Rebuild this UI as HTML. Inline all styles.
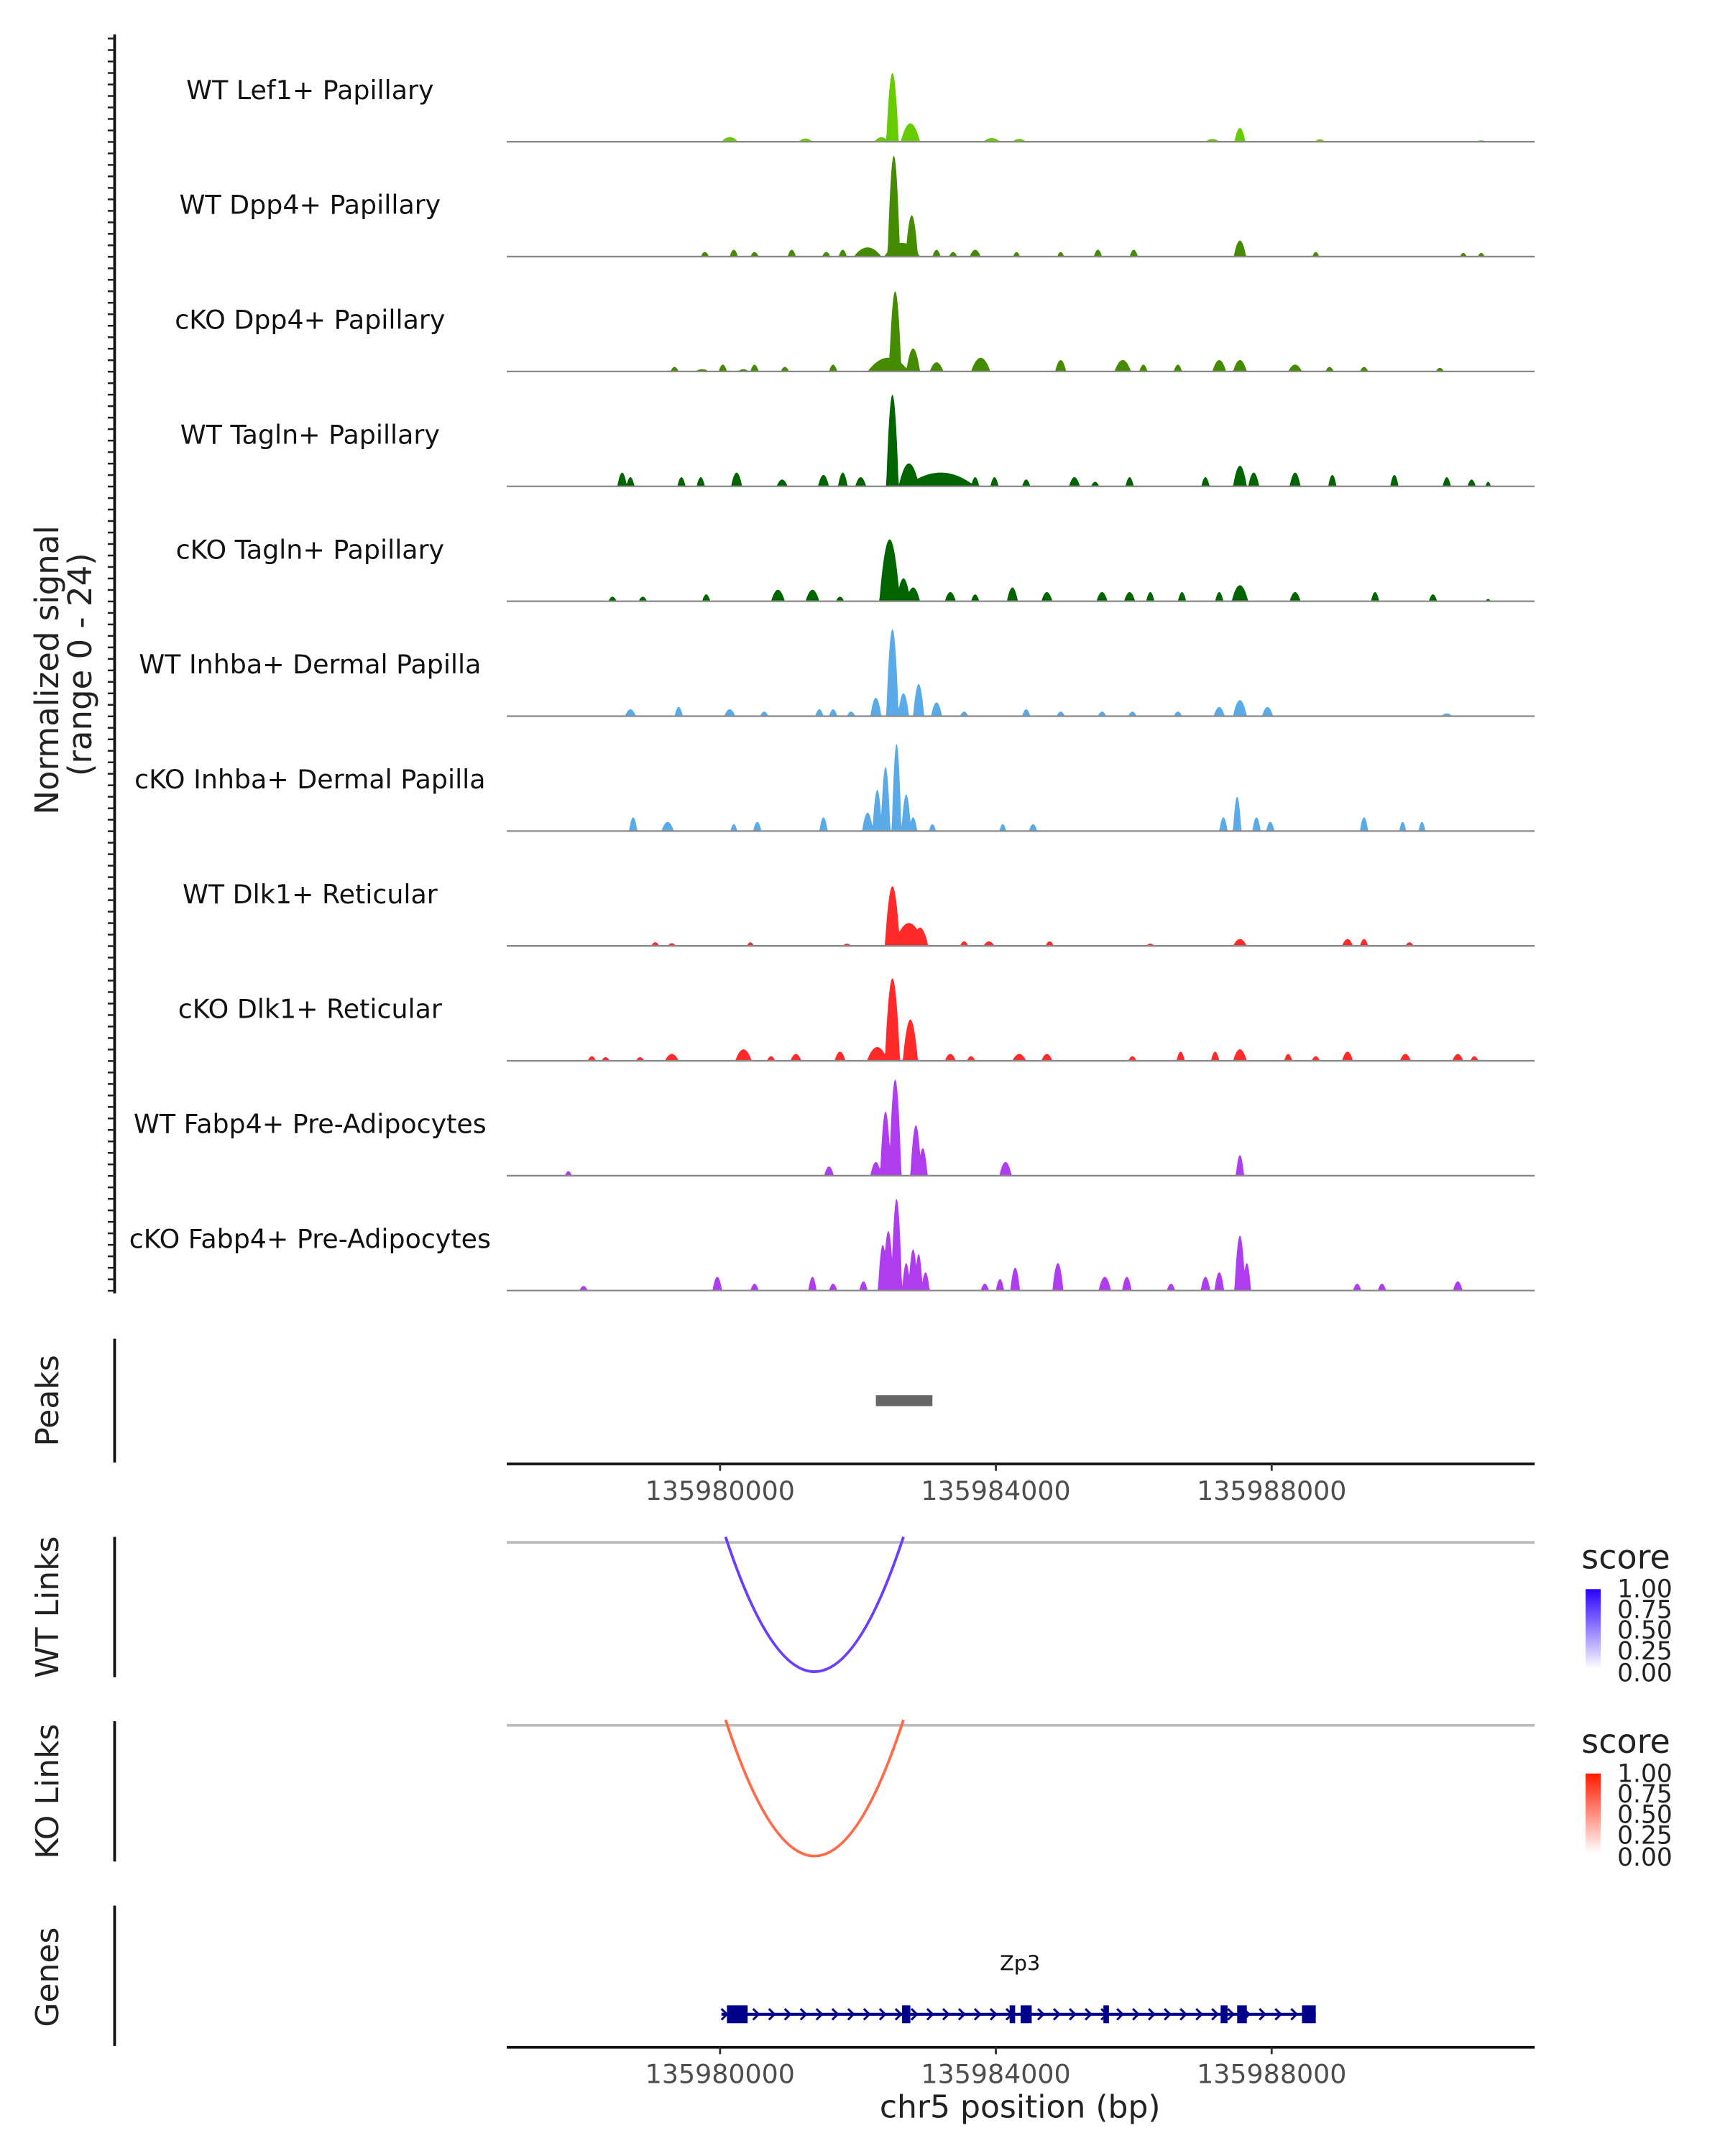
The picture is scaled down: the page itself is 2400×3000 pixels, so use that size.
<!DOCTYPE html>
<html><head><meta charset="utf-8"><style>
html,body{margin:0;padding:0;background:#fff}
svg{display:block;font-family:"DejaVu Sans","Liberation Sans",sans-serif}
</style></head><body>
<svg id="chart" width="2400" height="3000" viewBox="0 0 1253 1567" xmlns="http://www.w3.org/2000/svg">
<defs>
<linearGradient id="gBlue" x1="0" y1="0" x2="0" y2="1"><stop offset="0" stop-color="#2a00ff"/><stop offset="1" stop-color="#ffffff"/></linearGradient>
<linearGradient id="gRed" x1="0" y1="0" x2="0" y2="1"><stop offset="0" stop-color="#ff1a00"/><stop offset="1" stop-color="#ffffff"/></linearGradient>
</defs>
<g id="tracks"></g>
<text transform="translate(42,487) rotate(-90)" text-anchor="middle" font-size="23.5" fill="#222">Normalized signal</text>
<text transform="translate(66,483) rotate(-90)" text-anchor="middle" font-size="23.5" fill="#222">(range 0 - 24)</text>
<line x1="83" y1="25" x2="83" y2="940" stroke="#111" stroke-width="2"/>
<g id="yticks"></g>

<g>
<line x1="83" y1="973" x2="83" y2="1063" stroke="#111" stroke-width="2"/>
<text transform="translate(42,1018) rotate(-90)" text-anchor="middle" font-size="23" fill="#222">Peaks</text>
<rect id="peakbar" y="1014" height="8" fill="#666"/>
</g>
<g id="axis1"></g>

<g>
<line x1="83" y1="1117" x2="83" y2="1219" stroke="#111" stroke-width="2"/>
<text transform="translate(42,1168) rotate(-90)" text-anchor="middle" font-size="23" fill="#222">WT Links</text>
<line x1="368" y1="1121" x2="1115" y2="1121" stroke="#bbb" stroke-width="2"/>
<path id="wtarc" fill="none" stroke="#6a3dff" stroke-width="2"/>
<text x="1149" y="1140" font-size="24" fill="#222">score</text>
<rect x="1152" y="1155" width="11" height="58" fill="url(#gBlue)"/>
<g font-size="18" fill="#222"><text x="1175" y="1161">1.00</text><text x="1175" y="1176">0.75</text><text x="1175" y="1191">0.50</text><text x="1175" y="1206">0.25</text><text x="1175" y="1222">0.00</text></g>
</g>

<g>
<line x1="83" y1="1251" x2="83" y2="1353" stroke="#111" stroke-width="2"/>
<text transform="translate(42,1302) rotate(-90)" text-anchor="middle" font-size="23" fill="#222">KO Links</text>
<line x1="368" y1="1254" x2="1115" y2="1254" stroke="#bbb" stroke-width="2"/>
<path id="koarc" fill="none" stroke="#ff6a4a" stroke-width="2"/>
<text x="1149" y="1274" font-size="24" fill="#222">score</text>
<rect x="1152" y="1289" width="11" height="58" fill="url(#gRed)"/>
<g font-size="18" fill="#222"><text x="1175" y="1295">1.00</text><text x="1175" y="1310">0.75</text><text x="1175" y="1325">0.50</text><text x="1175" y="1340">0.25</text><text x="1175" y="1356">0.00</text></g>
</g>

<g>
<line x1="83" y1="1385" x2="83" y2="1487" stroke="#111" stroke-width="2"/>
<text transform="translate(42,1437) rotate(-90)" text-anchor="middle" font-size="23" fill="#222">Genes</text>
<text x="741" y="1432" text-anchor="middle" font-size="15" fill="#111">Zp3</text>
<g id="gene"></g>
</g>
<g id="axis2"></g>
<text x="741" y="1539" text-anchor="middle" font-size="23" fill="#222">chr5 position (bp)</text>
</svg>
<script>
const NS="http://www.w3.org/2000/svg";
const trackNames=["WT Lef1+ Papillary","WT Dpp4+ Papillary","cKO Dpp4+ Papillary","WT Tagln+ Papillary","cKO Tagln+ Papillary","WT Inhba+ Dermal Papilla","cKO Inhba+ Dermal Papilla","WT Dlk1+ Reticular","cKO Dlk1+ Reticular","WT Fabp4+ Pre-Adipocytes","cKO Fabp4+ Pre-Adipocytes"];
const trackColors=["#66cc00","#458b00","#458b00","#006400","#006400","#5aaae8","#5aaae8","#ff2a2a","#ff2a2a","#b03cf0","#b03cf0"];
const xTicks=[135980000,135984000,135988000];
const xTickLabels=["135980000","135984000","135988000"];
// peaks: [position bp, height (0-24), half-width bp]
const t1=[[135982500,15,90],[135982760,4,140],[135982340,1,100],[135980140,1,120],[135981240,0.7,100],[135983940,0.8,120],[135984340,0.6,100],[135987540,3,80],[135987140,0.6,100],[135988700,0.5,80],[135991040,0.3,80]];
const t2=[[135982520,22,90],[135982780,9,90],[135982640,3,260],[135982140,2,200],[135979780,1,60],[135980200,1.5,60],[135980500,1,60],[135981040,1.5,60],[135981540,1,60],[135981780,1.5,60],[135983140,1.5,60],[135983380,1,60],[135983700,1.5,80],[135984300,1,50],[135984940,1,50],[135985480,1.5,60],[135986000,1.5,60],[135987540,3.5,90],[135988640,1,50],[135990780,0.8,50],[135991040,0.8,50]];
const t3=[[135982540,17.5,90],[135982800,5,100],[135982440,3,300],[135979740,0.5,100],[135980340,0.5,80],[135979340,1,60],[135980040,1.5,60],[135980500,1.5,60],[135980940,1,60],[135981640,1.5,60],[135983140,2,100],[135983780,3,140],[135984940,2.5,80],[135985840,2.5,120],[135986140,1.5,60],[135986640,1.5,60],[135987240,2.5,100],[135987540,2.5,100],[135988340,1.5,100],[135988840,1,60],[135989340,1,60],[135990440,0.8,60]];
const t4=[[135982500,20,90],[135982740,5,150],[135983200,3,500],[135978580,3,70],[135978700,2,60],[135979440,2,60],[135979720,2,60],[135980240,3,80],[135980900,1.5,80],[135981500,2.5,80],[135981780,3,70],[135982040,2,80],[135983140,2,60],[135983700,2,60],[135983980,2,60],[135984440,1.5,60],[135985140,2,80],[135985440,1,60],[135985940,2,60],[135987040,2,60],[135987540,4.5,100],[135987740,3,80],[135988340,3,80],[135988880,2.5,60],[135989780,2.5,60],[135990540,2,60],[135990900,1.5,60],[135991140,1,40]];
const t5=[[135982460,13.5,150],[135982660,5,100],[135978440,1,60],[135978880,1,60],[135979800,1.5,60],[135980840,2.5,100],[135981340,2.5,100],[135981740,1,60],[135982800,3,100],[135983340,2,80],[135983700,1.5,60],[135984240,3,80],[135984740,2,80],[135985540,2,80],[135985940,2,80],[135986240,2,60],[135986700,2,60],[135987240,2,60],[135987540,3.5,120],[135988340,2,80],[135989500,2,60],[135990340,1.5,60],[135991140,0.5,40]];
const t6=[[135982500,19,90],[135982260,4,80],[135982660,5,80],[135982880,7,80],[135983140,3,80],[135978700,1.5,80],[135979400,2,60],[135980140,1.5,80],[135980640,1,60],[135981440,1.5,60],[135981640,1.5,60],[135981900,1,60],[135983540,1,60],[135984440,1.5,60],[135984940,1,60],[135985540,1,60],[135985980,1,60],[135986640,1,60],[135987240,2,80],[135987540,3.5,100],[135987940,2,80],[135990540,0.6,80]];
const t7=[[135982560,19,70],[135982400,14,70],[135982280,9,70],[135982140,4,80],[135982700,8,70],[135982800,3,60],[135983080,1.5,50],[135978740,3,60],[135979240,2,90],[135980200,1.5,50],[135980540,2,60],[135981500,3,60],[135984100,1.5,50],[135984540,1.5,60],[135987300,3,60],[135987500,7.5,60],[135987780,3,60],[135987980,2,60],[135989340,3,60],[135989900,2,50],[135990180,2,50]];
const t8=[[135982500,13,110],[135982740,5,220],[135982900,4,120],[135979060,0.8,60],[135979300,0.6,60],[135980440,0.8,50],[135981840,0.5,60],[135983540,1,60],[135983900,1,80],[135984780,1,60],[135986240,0.5,60],[135987540,1.5,100],[135989100,1.5,80],[135989340,1.5,60],[135990000,0.8,60]];
const t9=[[135982500,18,110],[135982760,9,110],[135982280,3,150],[135978140,1,60],[135978340,0.8,60],[135978840,0.8,60],[135979300,1.5,100],[135980340,2.5,120],[135980740,1,60],[135981100,1.5,80],[135981740,2,80],[135983340,1.5,80],[135983640,1,60],[135984340,1.5,100],[135984740,1.5,80],[135985980,1,60],[135986680,2,60],[135987180,2,60],[135987540,2.5,100],[135988240,1.5,60],[135988640,1,60],[135989100,2,80],[135989940,1.5,80],[135990700,1.5,80],[135990940,1,60]];
const t10=[[135982540,21,90],[135982400,14,80],[135982840,11,80],[135982940,6,70],[135982260,3,80],[135977800,1,50],[135981580,2,70],[135984140,3,90],[135987540,4.5,60]];
const t11=[[135982560,20,80],[135982440,13,80],[135982360,10,70],[135982800,9,70],[135982880,8,60],[135982980,4,60],[135982700,6,60],[135978020,1,60],[135979960,3,70],[135980500,1.5,60],[135981340,3,60],[135981640,1.5,60],[135982080,2,60],[135983840,1.5,60],[135984060,2.5,60],[135984280,5,70],[135984900,6,80],[135985580,3,90],[135985900,3,70],[135986540,1.5,60],[135987040,3,70],[135987240,4,70],[135987540,12,80],[135987640,6,60],[135989240,1.5,60],[135989600,1.5,60],[135990700,2,70]];
const tracks=[t1,t2,t3,t4,t5,t6,t7,t8,t9,t10,t11];
const peakRegion=[135982260,135983080];
const linkWT=[135980080,135982660];
const linkKO=[135980080,135982660];
const geneSpan=[135980020,135988640];
const exons=[[135980100,135980400],[135982640,135982760],[135984200,135984280],[135984360,135984520],[135985560,135985640],[135987260,135987360],[135987500,135987640],[135988440,135988640]];

const X0=368,X1=1115,B0=135976907,B1=135991815;
function xs(bp){return X0+(bp-B0)/(B1-B0)*(X1-X0);}
const baseTop=103,trackStep=83.5,unitPx=80/24;
function ys(v,i){return baseTop+i*trackStep - v*unitPx;}

const tg=document.getElementById('tracks');
tracks.forEach((pk,i)=>{
  const base=baseTop+i*trackStep;
  const lab=document.createElementNS(NS,'text');
  
  
  lab.setAttribute('x',225);lab.setAttribute('y',base-31);
  lab.setAttribute('text-anchor','middle');lab.setAttribute('font-size','19');lab.setAttribute('fill','#111');
  lab.textContent=trackNames[i];tg.appendChild(lab);
  let d='M'+X0+','+base;
  for(let px=X0;px<=X1;px+=0.5){
    const bp=B0+(px-X0)/(X1-X0)*(B1-B0);
    let v=0;
    pk.forEach(p=>{const r=(bp-p[0])/p[2];if(Math.abs(r)<1){const s=p[1]*(1-r*r);if(s>v)v=s;}});
    d+='L'+px.toFixed(1)+','+ys(v,i).toFixed(2);
  }
  d+='L'+X1+','+base+'Z';
  const area=document.createElementNS(NS,'path');
  
  
  area.setAttribute('d',d);area.setAttribute('fill',trackColors[i]);
  tg.appendChild(area);
  const bl=document.createElementNS(NS,'line');
  
  
  bl.setAttribute('x1',X0);bl.setAttribute('x2',X1);bl.setAttribute('y1',base);bl.setAttribute('y2',base);
  bl.setAttribute('stroke','#888');bl.setAttribute('stroke-width','1.2');
  tg.appendChild(bl);
});
const yt=document.getElementById('yticks');
for(let y=28;y<=940;y+=8.35){
  const t=document.createElementNS(NS,'line');
  
  
  t.setAttribute('x1',78);t.setAttribute('x2',83);t.setAttribute('y1',y);t.setAttribute('y2',y);
  t.setAttribute('stroke','#222');t.setAttribute('stroke-width','1.3');yt.appendChild(t);
}
const pb=document.getElementById('peakbar');
pb.setAttribute('x',xs(peakRegion[0]));pb.setAttribute('width',xs(peakRegion[1])-xs(peakRegion[0]));

function axis(gid,y,ly){
  const g=document.getElementById(gid);
  const l=document.createElementNS(NS,'line');
  
  
  l.setAttribute('x1',X0);l.setAttribute('x2',X1);l.setAttribute('y1',y);l.setAttribute('y2',y);
  l.setAttribute('stroke','#111');l.setAttribute('stroke-width','2');g.appendChild(l);
  xTicks.forEach((v,k)=>{
    const t=document.createElementNS(NS,'line');
    
    
    t.setAttribute('x1',xs(v));t.setAttribute('x2',xs(v));t.setAttribute('y1',y);t.setAttribute('y2',y+5);
    t.setAttribute('stroke','#333');t.setAttribute('stroke-width','1.5');g.appendChild(t);
    const tx=document.createElementNS(NS,'text');
    
    
    tx.setAttribute('x',xs(v));tx.setAttribute('y',ly);tx.setAttribute('text-anchor','middle');
    tx.setAttribute('font-size','19');tx.setAttribute('fill','#4d4d4d');tx.textContent=xTickLabels[k];g.appendChild(tx);
  });
}
axis('axis1',1064,1090);axis('axis2',1488,1514);

function arc(id,lk,y0,y1){
  const a=xs(lk[0]),b=xs(lk[1]),m=(a+b)/2;
  const cy=2*y1-y0;
  document.getElementById(id).setAttribute('d','M'+a+','+y0+' Q'+m+','+cy+' '+b+','+y0);
}
arc('wtarc',linkWT,1117,1215);arc('koarc',linkKO,1250,1349);

const gg=document.getElementById('gene');
const gy=1464;
const gl=document.createElementNS(NS,'line');


gl.setAttribute('x1',xs(geneSpan[0]));gl.setAttribute('x2',xs(geneSpan[1]));gl.setAttribute('y1',gy);gl.setAttribute('y2',gy);
gl.setAttribute('stroke','#00008b');gl.setAttribute('stroke-width','2.2');gg.appendChild(gl);
for(let x=xs(geneSpan[0])+2;x<xs(geneSpan[1]);x+=11.5){
  const c=document.createElementNS(NS,'path');
  
  
  c.setAttribute('d','M'+(x-2)+','+(gy-4)+' L'+(x+2)+','+gy+' L'+(x-2)+','+(gy+4));
  c.setAttribute('fill','none');c.setAttribute('stroke','#00008b');c.setAttribute('stroke-width','1.6');gg.appendChild(c);
}
exons.forEach(e=>{
  const r=document.createElementNS(NS,'rect');
  
  
  r.setAttribute('x',xs(e[0]));r.setAttribute('width',Math.max(3,xs(e[1])-xs(e[0])));
  r.setAttribute('y',gy-6.5);r.setAttribute('height',13);r.setAttribute('fill','#00008b');gg.appendChild(r);
});
</script>
</body></html>
